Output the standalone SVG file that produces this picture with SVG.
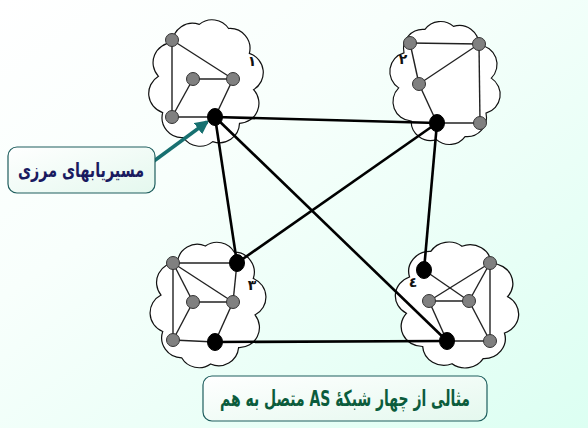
<svg xmlns="http://www.w3.org/2000/svg" width="588" height="428" viewBox="0 0 588 428">
<defs>
<linearGradient id="bg" x1="0" y1="0" x2="1" y2="1">
<stop offset="0" stop-color="#ffffff"/>
<stop offset="0.35" stop-color="#f8fffc"/>
<stop offset="1" stop-color="#dcfff2"/>
</linearGradient>
<linearGradient id="boxg" x1="0" y1="0" x2="1" y2="1">
<stop offset="0" stop-color="#ffffff"/>
<stop offset="1" stop-color="#e4f8ee"/>
</linearGradient>
<path id="cloud" d="M48,0 A20,20 0 0 1 38.8,35.3 A20,20 0 0 1 14.8,57.1 A20,20 0 0 1 -14.8,57.1 A20,20 0 0 1 -38.8,35.3 A20,20 0 0 1 -48,0 A20,20 0 0 1 -38.8,-35.3 A20,20 0 0 1 -14.8,-57.1 A20,20 0 0 1 14.8,-57.1 A20,20 0 0 1 38.8,-35.3 A20,20 0 0 1 48,0 Z"/>
<marker id="ah" viewBox="0 0 10 10" refX="8" refY="5" markerWidth="4" markerHeight="4" orient="auto" markerUnits="strokeWidth">
<path d="M0,0 L10,5 L0,10 Z" fill="#177070"/>
</marker>
<style>
.cl{fill:#ffffff;stroke:#111;stroke-width:1.2}
.e{stroke:#222;stroke-width:1.4;fill:none}
.ie{stroke:#000;stroke-width:2.6;fill:none}
.g{fill:#808080;stroke:#333;stroke-width:1}
.b{fill:#000;stroke:#000;stroke-width:1}
.num{font-family:"DejaVu Sans",sans-serif;font-size:14px;font-weight:bold;fill:#111;text-anchor:middle}
.box{fill:url(#boxg);stroke:#1f5e5e;stroke-width:1.2}
</style>
</defs>
<rect width="588" height="428" fill="url(#bg)"/>

<g id="clouds">
<use href="#cloud" class="cl" transform="translate(206,83) rotate(8)"/>
<use href="#cloud" class="cl" transform="translate(445,83) scale(0.97,0.97) rotate(-6)"/>
<use href="#cloud" class="cl" transform="translate(208,305) rotate(12)"/>
<use href="#cloud" class="cl" transform="translate(457,305) scale(1.07,1) rotate(-10)"/>
</g>

<g id="connectors">
<!-- AS1 -->
<line class="e" x1="172" y1="40" x2="172" y2="117"/>
<line class="e" x1="172" y1="40" x2="233" y2="79"/>
<line class="e" x1="193" y1="79" x2="233" y2="79"/>
<line class="e" x1="193" y1="79" x2="172" y2="117"/>
<line class="e" x1="172" y1="117" x2="215" y2="117"/>
<line class="e" x1="233" y1="79" x2="215" y2="117"/>
<!-- AS2 -->
<line class="e" x1="410" y1="43" x2="479" y2="44"/>
<line class="e" x1="479" y1="44" x2="419" y2="84"/>
<line class="e" x1="410" y1="43" x2="419" y2="84"/>
<line class="e" x1="419" y1="84" x2="437" y2="123"/>
<line class="e" x1="479" y1="44" x2="480" y2="123"/>
<line class="e" x1="437" y1="123" x2="480" y2="123"/>
<!-- AS3 -->
<line class="e" x1="173" y1="263" x2="237" y2="263"/>
<line class="e" x1="173" y1="263" x2="233" y2="302"/>
<line class="e" x1="173" y1="263" x2="193" y2="302"/>
<line class="e" x1="173" y1="263" x2="173" y2="340"/>
<line class="e" x1="193" y1="302" x2="233" y2="302"/>
<line class="e" x1="193" y1="302" x2="173" y2="340"/>
<line class="e" x1="237" y1="263" x2="233" y2="302"/>
<line class="e" x1="233" y1="302" x2="215" y2="342"/>
<line class="e" x1="173" y1="340" x2="215" y2="342"/>
<!-- AS4 -->
<line class="e" x1="424" y1="270" x2="469" y2="301"/>
<line class="e" x1="429" y1="301" x2="490" y2="263"/>
<line class="e" x1="429" y1="301" x2="469" y2="301"/>
<line class="e" x1="469" y1="301" x2="490" y2="263"/>
<line class="e" x1="490" y1="263" x2="490" y2="341"/>
<line class="e" x1="469" y1="301" x2="490" y2="341"/>
<line class="e" x1="429" y1="301" x2="447" y2="341"/>
<line class="e" x1="447" y1="341" x2="490" y2="341"/>
<!-- inter-AS -->
<line class="ie" x1="215" y1="117" x2="437" y2="123"/>
<line class="ie" x1="215" y1="117" x2="237" y2="263"/>
<line class="ie" x1="215" y1="117" x2="447" y2="341"/>
<line class="ie" x1="437" y1="123" x2="237" y2="263"/>
<line class="ie" x1="437" y1="123" x2="424" y2="270"/>
<line class="ie" x1="215" y1="342" x2="447" y2="341"/>
<!-- pointer -->
<line x1="154" y1="161" x2="207" y2="122" stroke="#177070" stroke-width="3.5" marker-end="url(#ah)"/>
</g>

<g id="as1">
<circle class="g" cx="172" cy="40" r="6.5"/>
<circle class="g" cx="193" cy="79" r="6.5"/>
<circle class="g" cx="233" cy="79" r="6.5"/>
<circle class="g" cx="172" cy="117" r="6.5"/>
<ellipse class="b" cx="215" cy="117" rx="7.5" ry="8.5"/>
<text class="num" x="252" y="66">۱</text>
</g>
<g id="as2">
<circle class="g" cx="410" cy="43" r="6.5"/>
<circle class="g" cx="479" cy="44" r="6.5"/>
<circle class="g" cx="419" cy="84" r="6.5"/>
<circle class="g" cx="480" cy="123" r="6.5"/>
<ellipse class="b" cx="437" cy="123" rx="7.5" ry="8.5"/>
<text class="num" x="403" y="64">۲</text>
</g>
<g id="as3">
<circle class="g" cx="173" cy="263" r="6.5"/>
<circle class="g" cx="193" cy="302" r="6.5"/>
<circle class="g" cx="233" cy="302" r="6.5"/>
<circle class="g" cx="173" cy="340" r="6.5"/>
<ellipse class="b" cx="237" cy="263" rx="7.5" ry="8.5"/>
<ellipse class="b" cx="215" cy="342" rx="7.5" ry="8.5"/>
<text class="num" x="252" y="290">۳</text>
</g>
<g id="as4">
<circle class="g" cx="490" cy="263" r="6.5"/>
<circle class="g" cx="429" cy="301" r="6.5"/>
<circle class="g" cx="469" cy="301" r="6.5"/>
<circle class="g" cx="490" cy="341" r="6.5"/>
<ellipse class="b" cx="424" cy="270" rx="7.5" ry="8.5"/>
<ellipse class="b" cx="447" cy="341" rx="7.5" ry="8.5"/>
<text class="num" x="413" y="287">٤</text>
</g>

<g id="label-border">
<rect class="box" x="8" y="147" width="147" height="46" rx="9"/>
<text x="81" y="177" font-family="DejaVu Sans, sans-serif" font-size="20" font-weight="bold" fill="#1a1a60" text-anchor="middle" direction="rtl" textLength="126" lengthAdjust="spacingAndGlyphs">مسیریابهای مرزی</text>
</g>
<g id="label-caption">
<rect class="box" x="203" y="376" width="284" height="45" rx="9"/>
<text x="345" y="406" font-family="DejaVu Sans, sans-serif" font-size="22" font-weight="bold" fill="#0b5c3c" text-anchor="middle" direction="rtl" textLength="250" lengthAdjust="spacingAndGlyphs">مثالی از چهار شبکۀ AS متصل به هم</text>
</g>
</svg>
